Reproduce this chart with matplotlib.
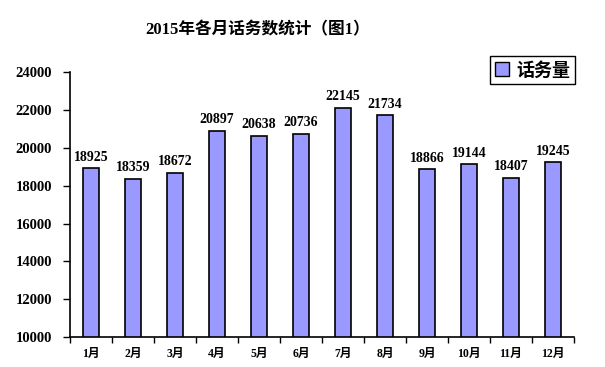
import numpy as np
import matplotlib.pyplot as plt
from matplotlib.patches import Patch

plt.rcParams['font.family'] = ['Liberation Serif', 'Noto Sans CJK SC']

months = ['1月', '2月', '3月', '4月', '5月', '6月',
          '7月', '8月', '9月', '10月', '11月', '12月']
calls = [18925, 18359, 18672, 20897, 20638, 20736,
         22145, 21734, 18866, 19144, 18407, 19245]
y_ticks = [10000, 12000, 14000, 16000, 18000, 20000, 22000, 24000]

W, H = 605, 367
fig = plt.figure(figsize=(W / 100, H / 100), dpi=100)
ax = fig.add_axes([70 / W, 1 - 337 / H, (574 - 70) / W, (337 - 72.5) / H])

x = np.arange(len(months))
bars = ax.bar(x, calls, width=0.4, color='#9999ff', edgecolor='black', linewidth=1.2)

for xi, v in zip(x, calls):
    ax.text(xi, v + 250, str(v), ha='center', va='bottom',
            fontsize=10, fontweight='bold')

ax.set_xlim(-0.5, len(months) - 0.5)
ax.set_ylim(10000, 24000)
ax.set_yticks(y_ticks)
ax.set_yticklabels([str(t) for t in y_ticks], fontsize=10.5, fontweight='bold')
ax.set_xticks(x)
ax.set_xticklabels(months, fontsize=8.5, fontweight='bold')
ax.tick_params(axis='x', length=0, pad=8)
ax.set_xticks(np.arange(-0.5, len(months)), minor=True)
ax.tick_params(axis='x', which='minor', length=4, width=1, direction='out')
ax.tick_params(axis='y', length=5, width=1, direction='out', pad=8)

for side in ['top', 'right']:
    ax.spines[side].set_visible(False)
ax.spines['left'].set_linewidth(1.2)
ax.spines['bottom'].set_linewidth(1.2)

fig.text(258 / W, 1 - 30 / H, '2015年各月话务数统计（图1）', ha='center', va='center',
         fontsize=12, fontweight='bold')

leg = fig.legend(handles=[Patch(facecolor='#9999ff', edgecolor='black', label='话务量')],
                 loc='upper right', bbox_to_anchor=(575 / W, 1 - 56 / H),
                 fancybox=False, framealpha=1, edgecolor='black',
                 prop={'family': ['Noto Sans CJK SC'], 'weight': 'bold', 'size': 13},
                 handlelength=0.8, handleheight=0.8, handletextpad=0.4,
                 borderpad=0.25, borderaxespad=0)
leg.get_frame().set_linewidth(1.0)

fig.savefig('out.png', dpi=100)
